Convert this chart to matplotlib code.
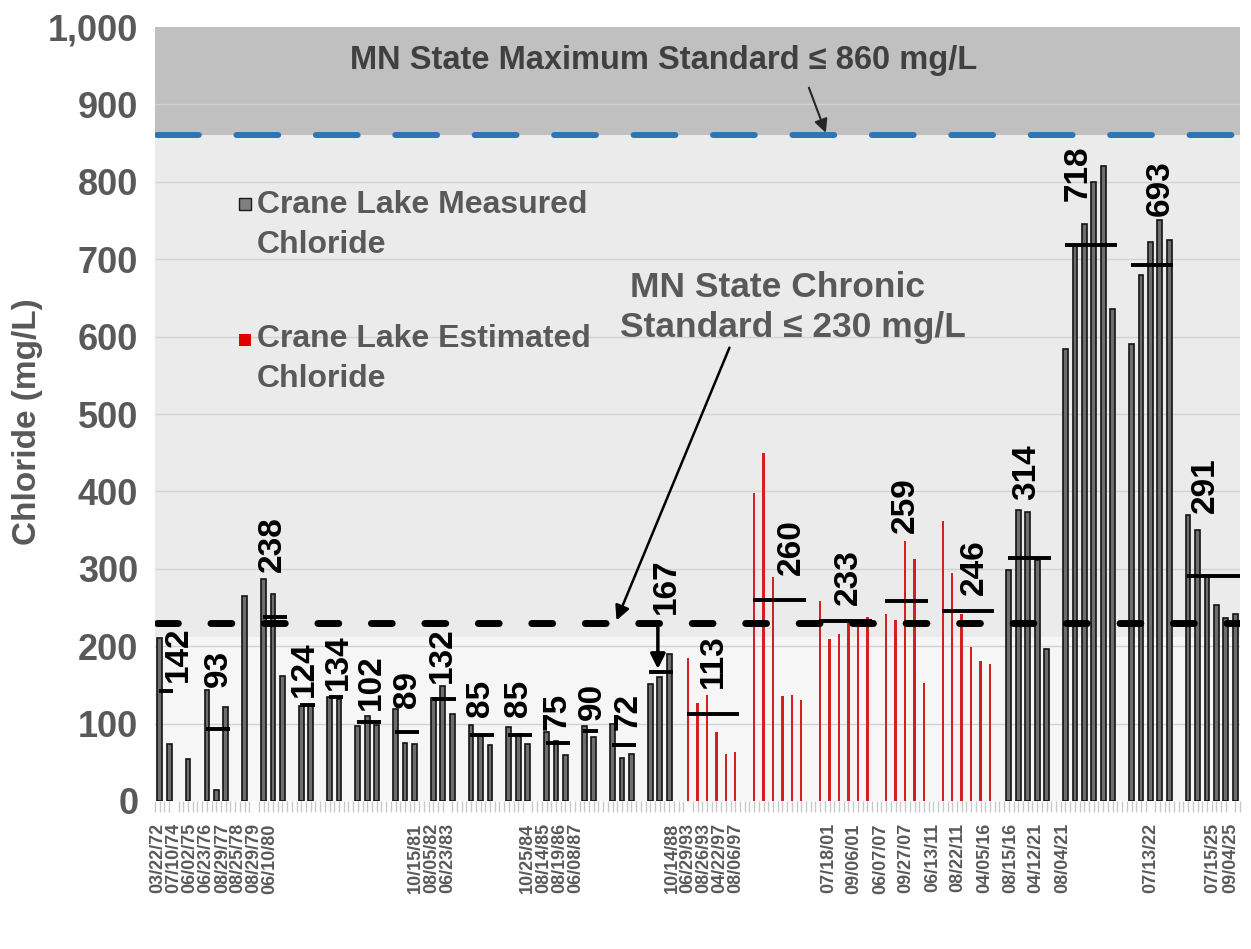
import matplotlib.pyplot as plt
from matplotlib.patches import Rectangle
import numpy as np

plt.rcParams['font.family'] = ['Liberation Sans', 'DejaVu Sans']
plt.rcParams['font.weight'] = 'bold'

W, H = 1251, 949

# measured chloride (mg/L); slot = sample position along the category axis
meas_slot = [0, 1, 3, 5, 6, 7, 9, 11, 12, 13, 15, 16, 18, 19, 21, 22, 23, 25, 26, 27,
             29, 30, 31, 33, 34, 35, 37, 38, 39, 41, 42, 43, 45, 46, 48, 49, 50, 52, 53, 54,
             90, 91, 92, 93, 94, 96, 97, 98, 99, 100, 101, 103, 104, 105, 106, 107,
             109, 110, 111, 112, 113, 114]
meas_val = [210, 74, 54, 143, 14, 122, 265, 287, 267, 161, 123, 123, 135, 132, 97, 110, 98,
            119, 75, 73, 133, 149, 112, 98, 85, 72, 95, 87, 73, 89, 77, 60, 97, 83, 99, 56, 61,
            151, 160, 190,
            299, 376, 374, 311, 197, 584, 717, 746, 800, 820, 636, 590, 680, 722, 751, 725,
            369, 350, 290, 253, 237, 241]

# estimated chloride (mg/L)
est_slot = [56, 57, 58, 59, 60, 61, 63, 64, 65, 66, 67, 68, 70, 71, 72, 73, 74, 75,
            77, 78, 79, 80, 81, 83, 84, 85, 86, 87, 88]
est_val = [185, 127, 137, 89, 61, 63, 398, 450, 289, 136, 137, 131, 258, 209, 216, 235, 226, 238,
           242, 234, 336, 313, 153, 362, 295, 242, 199, 181, 177]

# period averages
avg_val = [142, 93, 238, 124, 134, 102, 89, 132, 85, 85, 75, 90, 72, 167,
           113, 260, 233, 259, 246, 314, 718, 693, 291]
avg_first = [0, 5, 11, 15, 18, 21, 25, 29, 33, 37, 41, 45, 48, 52,
             56, 63, 70, 77, 83, 90, 96, 103, 109]
avg_last = [1, 7, 13, 16, 19, 23, 27, 31, 35, 39, 43, 46, 50, 54,
            61, 68, 75, 81, 88, 94, 101, 107, 114]

date_labels = ['03/22/72', '07/10/74', '06/02/75', '06/23/76', '08/29/77', '08/25/78', '08/29/79', '06/10/80',
               '10/15/81', '08/05/82', '06/23/83',
               '10/25/84', '08/14/85', '08/19/86', '06/08/87',
               '10/14/88', '06/29/93', '08/26/93', '04/22/97', '08/06/97',
               '07/18/01', '09/06/01', '06/07/07', '09/27/07', '06/13/11', '08/22/11',
               '04/05/16', '08/15/16', '04/12/21', '08/04/21',
               '07/13/22', '07/15/25', '09/04/25']
date_pos = [-0.2, 1.5, 3.2, 4.9, 6.7, 8.3, 10.0, 11.7,
            27.1, 28.8, 30.5,
            39.0, 40.7, 42.4, 44.1,
            54.3, 56.0, 57.7, 59.4, 61.1,
            70.9, 73.6, 76.4, 79.1, 81.9, 84.6, 87.4, 90.2, 92.9, 95.7,
            105.0, 111.6, 113.5]

# where the average labels sit
lab_x = [2.0, 6.2, 11.9, 15.3, 18.9, 22.4, 26.3, 30.0, 34.0, 38.0, 42.1, 45.9, 49.6, 53.7,
         58.7, 66.9, 73.0, 79.0, 86.3, 91.9, 97.3, 106.0, 110.8]
lab_dy = [12, 54, 58, 11, 9, 16, 31, 20, 24, 24, 17, 15, 20, 75,
          33, 32, 20, 87, 20, 75, 57, 63, 81]

chronic = 230
maximum = 860

fig = plt.figure(figsize=(W / 100, H / 100), dpi=100)
ax = fig.add_axes([155 / W, 1 - 801 / H, 1085 / W, 774 / H])

def fx(px):
    return px / W

def fy(py):
    return 1 - py / H

# background bands
ax.axhspan(maximum, 1000, color='#c0c0c0', zorder=0, lw=0)
ax.axhspan(212, maximum, color='#ebebeb', zorder=0, lw=0)
ax.axhspan(0, 212, color='#f6f6f6', zorder=0, lw=0)
for g in range(100, 1000, 100):
    ax.axhline(g, color='#d2d2d2', lw=1, zorder=1)

ax.bar(meas_slot, meas_val, width=0.5, color='#6e6e6e', edgecolor='#141414', lw=1.2, zorder=3)
ax.bar(est_slot, est_val, width=0.25, color='#d42020', lw=0, zorder=3)

ax.plot([-0.3, 114.5], [chronic, chronic], color='black', lw=5, dashes=(3.0, 4.7),
        dash_capstyle='round', zorder=4)
ax.plot([-0.3, 114.5], [maximum, maximum], color='#2e75b6', lw=4.3, dashes=(7.0, 6.3),
        dash_capstyle='round', zorder=4)

for v, a, b, lx, dy in zip(avg_val, avg_first, avg_last, lab_x, lab_dy):
    ax.plot([a - 0.1, b + 0.45], [v, v], color='black', lw=2.8, zorder=5, solid_capstyle='butt')
    ax.text(lx, v + dy, str(v), rotation=90, ha='center', va='bottom', fontsize=24,
            color='black', zorder=6)

# arrows
ax.annotate('', xy=(70.7, maximum), xytext=(68.7, 925),
            arrowprops=dict(arrowstyle='-|>', color='#262626', lw=1.5, mutation_scale=20), zorder=6)
ax.annotate('', xy=(48.3, chronic), xytext=(60.5, 589),
            arrowprops=dict(arrowstyle='-|>', color='black', lw=1.8, mutation_scale=22), zorder=6)
ax.annotate('', xy=(52.8, 167), xytext=(52.8, chronic),
            arrowprops=dict(arrowstyle='-|>', color='black', lw=2.5, mutation_scale=22), zorder=6)

ax.set_xlim(-0.5, 114.5)
ax.set_ylim(0, 1000)
ax.set_yticks(range(0, 1001, 100))
ax.set_yticklabels(['{:,}'.format(t) for t in range(0, 1001, 100)])
ax.tick_params(axis='y', length=0, pad=12, labelsize=26, labelcolor='#595959')
ax.set_xticks(date_pos)
ax.set_xticklabels(date_labels, rotation=90, fontsize=13, color='#595959')
ax.set_xticks(np.arange(-0.5, 115, 0.5), minor=True)
ax.tick_params(axis='x', which='major', length=0, pad=16)
ax.tick_params(axis='x', which='minor', length=8, color='#c8c8c8', width=1)
for s in ax.spines.values():
    s.set_visible(False)

# legend, drawn by hand
fig.patches.append(Rectangle((fx(239), fy(210)), 12 / W, 12 / H, transform=fig.transFigure,
                             facecolor='#7f7f7f', edgecolor='#1a1a1a', lw=1))
fig.patches.append(Rectangle((fx(239), fy(346)), 12 / W, 12 / H, transform=fig.transFigure,
                             facecolor='#e00000', edgecolor='none'))
leg = dict(fontsize=23, color='#595959', ha='left', va='center')
fig.text(fx(257), fy(205), 'Crane Lake Measured', **leg)
fig.text(fx(257), fy(245), 'Chloride', **leg)
fig.text(fx(257), fy(339), 'Crane Lake Estimated', **leg)
fig.text(fx(257), fy(379), 'Chloride', **leg)

fig.text(fx(664), fy(60), 'MN State Maximum Standard \u2264 860 mg/L', fontsize=23.5,
         color='#404040', ha='center', va='center')
fig.text(fx(630), fy(287), 'MN State Chronic', fontsize=25.5, color='#595959', ha='left', va='center')
fig.text(fx(620), fy(327), 'Standard \u2264 230 mg/L', fontsize=25.5, color='#595959',
         ha='left', va='center')
fig.text(fx(28), fy(422), 'Chloride (mg/L)', fontsize=24, color='#595959', rotation=90,
         ha='center', va='center')

fig.savefig('out.png', dpi=100)
